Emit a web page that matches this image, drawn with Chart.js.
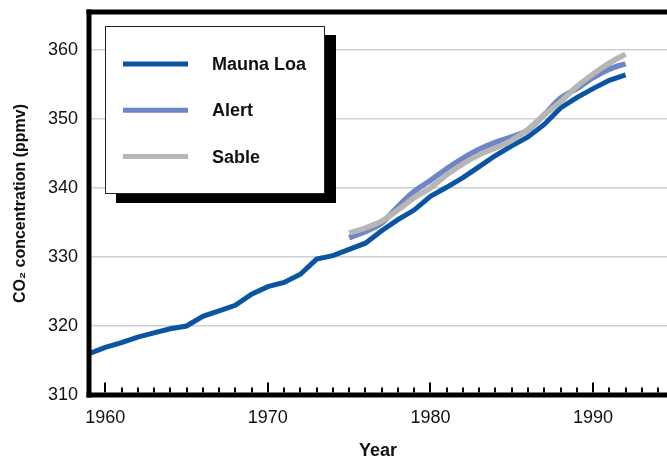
<!DOCTYPE html>
<html>
<head>
<meta charset="utf-8">
<script src="https://cdn.jsdelivr.net/npm/chart.js@4.4.1/dist/chart.umd.min.js"></script>
<style>
html, body { margin: 0; padding: 0; background: #fff; }
</style>
</head>
<body>
<canvas id="co2-chart" width="667" height="459"></canvas>
<script>
// annual means
var maunaYears = [1959, 1960, 1961, 1962, 1963, 1964, 1965, 1966, 1967, 1968, 1969,
  1970, 1971, 1972, 1973, 1974, 1975, 1976, 1977, 1978, 1979,
  1980, 1981, 1982, 1983, 1984, 1985, 1986, 1987, 1988, 1989,
  1990, 1991, 1992];
var maunaLoa = [316.0, 316.9, 317.6, 318.4, 319.0, 319.6, 320.0, 321.4, 322.2, 323.0, 324.6,
  325.7, 326.3, 327.5, 329.7, 330.2, 331.1, 332.0, 333.8, 335.4, 336.8,
  338.8, 340.1, 341.5, 343.1, 344.7, 346.1, 347.4, 349.2, 351.6, 353.1,
  354.4, 355.6, 356.4];

var stationYears = [1975, 1976, 1977, 1978, 1979, 1980, 1981, 1982, 1983,
  1984, 1985, 1986, 1987, 1988, 1989, 1990, 1991, 1992];
var alertCO2 = [332.8, 333.7, 334.9, 337.3, 339.5, 341.1, 342.8, 344.3, 345.6,
  346.6, 347.4, 348.4, 350.6, 353.0, 354.4, 356.0, 357.2, 358.0];
var sableCO2 = [333.5, 334.2, 335.2, 336.8, 338.6, 340.0, 341.9, 343.5, 344.8,
  345.8, 346.9, 348.5, 350.6, 352.5, 354.7, 356.5, 358.1, 359.4];

var yearTicks = [1960, 1970, 1980, 1990];
var ppmvTicks = [310, 320, 330, 340, 350, 360];

var FONT = '"Liberation Sans", Arial, sans-serif';

function toPoints(xs, ys) {
  return ys.map(function (v, i) { return { x: xs[i], y: v }; });
}

// thick black frame + inward year ticks on the bottom axis
var framePlugin = {
  id: 'frame',
  afterDatasetsDraw: function (chart) {
    var ctx = chart.ctx, ca = chart.chartArea, xs = chart.scales.x;
    ctx.save();
    ctx.fillStyle = '#000';
    ctx.fillRect(ca.left - 2.5, ca.top - 2.5, chart.width - ca.left + 3, 5);
    ctx.fillRect(ca.left - 2.5, ca.top - 2.5, 5, ca.bottom - ca.top + 5);
    ctx.fillRect(ca.left - 2.5, ca.bottom - 2.5, chart.width - ca.left + 3, 5);
    for (var yr = 1960; yr <= 1994; yr++) {
      var px = xs.getPixelForValue(yr);
      var h = (yr % 10 === 0) ? 10 : 5;
      ctx.fillRect(Math.round(px) - 1, ca.bottom - 2.5 - h, 2, h);
    }
    ctx.restore();
  }
};

// boxed legend with a drop shadow
var legendPlugin = {
  id: 'boxLegend',
  afterDraw: function (chart) {
    var ctx = chart.ctx, ca = chart.chartArea;
    var L = ca.left + 16, T = ca.top + 14, W = 219, H = 167;
    ctx.save();
    ctx.fillStyle = '#000';
    ctx.fillRect(L + 11, T + 9, W + 1, H + 1);
    ctx.fillStyle = '#fff';
    ctx.fillRect(L, T, W, H);
    ctx.strokeStyle = '#222';
    ctx.lineWidth = 1;
    ctx.strokeRect(L + 0.5, T + 0.5, W, H);
    ctx.font = 'bold 18px ' + FONT;
    ctx.textBaseline = 'middle';
    chart.data.datasets.forEach(function (ds, i) {
      var y = T + 38 + i * 46.3;
      ctx.strokeStyle = ds.borderColor;
      ctx.lineWidth = 5;
      ctx.beginPath();
      ctx.moveTo(L + 18, y);
      ctx.lineTo(L + 83, y);
      ctx.stroke();
      ctx.fillStyle = '#111';
      ctx.fillText(ds.label, L + 107, y + 1);
    });
    ctx.restore();
  }
};

var chart = new Chart(document.getElementById('co2-chart'), {
  type: 'line',
  data: {
    datasets: [
      {
        label: 'Mauna Loa',
        data: toPoints(maunaYears, maunaLoa),
        borderColor: '#0a55a3',
        borderWidth: 5,
        tension: 0,
        order: 2
      },
      {
        label: 'Alert',
        data: toPoints(stationYears, alertCO2),
        borderColor: '#6f86c6',
        borderWidth: 5.5,
        cubicInterpolationMode: 'monotone',
        order: 1
      },
      {
        label: 'Sable',
        data: toPoints(stationYears, sableCO2),
        borderColor: '#b6b6b6',
        borderWidth: 5.5,
        cubicInterpolationMode: 'monotone',
        order: 0
      }
    ]
  },
  options: {
    responsive: false,
    animation: false,
    layout: { padding: { top: 12, right: 0, left: 0, bottom: 0 } },
    elements: { point: { radius: 0 } },
    plugins: {
      legend: { display: false },
      tooltip: { enabled: false }
    },
    scales: {
      x: {
        type: 'linear',
        min: 1959,
        max: 1994.55,
        afterBuildTicks: function (s) { s.ticks = yearTicks.map(function (v) { return { value: v }; }); },
        afterFit: function (s) { s.height = 64; s.paddingLeft = 0; s.paddingRight = 0; },
        grid: { display: false, drawTicks: false },
        border: { display: false },
        ticks: {
          padding: 12,
          color: '#111',
          font: { family: FONT, size: 18 },
          maxRotation: 0,
          callback: function (v) { return String(v); }
        },
        title: {
          display: true,
          text: 'Year',
          color: '#111',
          font: { family: FONT, size: 18, weight: 'bold' },
          padding: { top: 0, bottom: -3 }
        }
      },
      y: {
        min: 310,
        max: 365.5,
        afterBuildTicks: function (s) { s.ticks = ppmvTicks.map(function (v) { return { value: v }; }); },
        afterFit: function (s) { s.width = 89; s.paddingTop = 0; s.paddingBottom = 0; },
        grid: {
          drawTicks: false,
          lineWidth: 1.5,
          color: function (c) { return c.tick && c.tick.value === 310 ? 'rgba(0,0,0,0)' : '#cfcfcf'; }
        },
        border: { display: false },
        ticks: {
          padding: 11,
          color: '#111',
          font: { family: FONT, size: 18 },
          callback: function (v) { return String(v); }
        },
        title: {
          display: true,
          text: 'CO₂ concentration (ppmv)',
          color: '#111',
          font: { family: FONT, size: 16, weight: 'bold' },
          padding: { top: 11, bottom: 0 }
        }
      }
    }
  },
  plugins: [framePlugin, legendPlugin]
});
</script>
</body>
</html>
